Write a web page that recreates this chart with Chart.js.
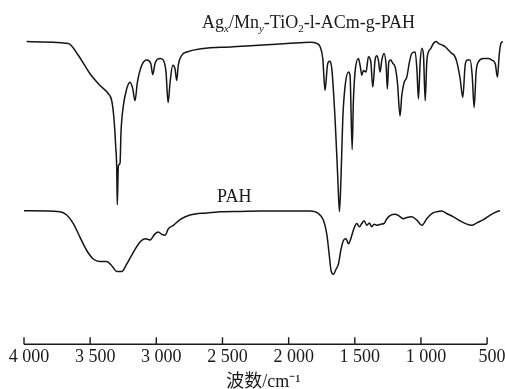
<!DOCTYPE html>
<html>
<head>
<meta charset="utf-8">
<script src="https://cdn.jsdelivr.net/npm/chart.js@4.4.0/dist/chart.umd.min.js"></script>
<style>
  html, body { margin: 0; padding: 0; background: #ffffff; }
  #wrap { width: 505px; height: 389px; position: relative; }
</style>
</head>
<body>
<div id="wrap"><canvas id="c" width="505" height="389"></canvas></div>
<script>
// ---------- data ----------
const tickValues = [4000, 3500, 3000, 2500, 2000, 1500, 1000, 500];
const tickLabels = ['4 000', '3 500', '3 000', '2 500', '2 000', '1 500', '1 000', '500'];
const axisTitle = '波数/cm⁻¹';

const topWavenumber = [3980,3665,3590,3501,3425,3363,3337,3320,3307,3299,3295,3287,3274,3267,3249,3224,3199,3178,3161,3143,3110,3072,3042,3027,3010,2972,2947,2927,2911,2896,2876,2859,2846,2834,2808,2770,2420,1913,1838,1787,1762,1742,1725,1707,1692,1674,1649,1629,1616,1604,1591,1573,1548,1536,1520,1511,1498,1473,1460,1447,1435,1415,1397,1379,1364,1347,1334,1322,1309,1296,1279,1263,1254,1243,1228,1213,1195,1178,1158,1145,1127,1107,1087,1069,1044,1031,1019,1006,993,981,968,956,943,925,906,885,868,842,817,792,767,749,729,704,684,666,649,628,613,598,583,566,528,490,464,439,422,409,396,381];
const topTransmittance = [99.8,99.2,95.3,89.2,85.3,82.6,80.3,74.3,65.3,57.7,46,58.7,59.8,69.8,78.7,84.2,86.4,84.2,80.3,86.4,92,93.7,92.6,88.9,92.6,94.2,93.7,89.8,79.7,86.4,92,90.9,87,92,95.3,96.4,98.1,99.4,99.6,99.2,98.1,94.2,83.7,92,93.3,90.9,74.2,55.3,43.7,55.3,74.2,85.3,89.8,88.7,64.2,79.8,89.8,94.2,92,88.7,90.3,89.8,94.8,93.1,84.8,93.7,95.1,93.7,89.8,93.7,95.9,91.8,84.2,93.1,93.7,92.6,91.4,86.4,75.3,82,86.4,88.1,93.1,95.9,96.4,90.9,80.9,93.1,97.6,95.3,80.3,93.1,96.4,97.6,99.2,99.8,99.2,98.7,98.1,97,95.9,95.3,93.1,87.6,81.4,92,93.7,93.7,88.7,78.1,89.8,93.1,94.2,94.2,93.7,92.6,88.1,95.3,99.2,99.8];

const pahWavenumber = [4000,3728,3677,3627,3577,3526,3476,3425,3375,3337,3299,3261,3224,3174,3123,3085,3047,3010,2985,2959,2934,2909,2871,2821,2745,2619,2518,2367,2216,1838,1775,1737,1712,1694,1679,1662,1641,1624,1606,1586,1566,1548,1530,1511,1485,1465,1447,1430,1409,1390,1372,1354,1334,1304,1279,1258,1228,1195,1163,1133,1107,1069,1031,993,956,918,880,842,805,755,704,653,616,578,528,477,427,402];
const pahTransmittance = [44,43.7,42.6,39.8,35.3,30.9,28.1,27.3,27.3,25.9,24,24,26.4,30.3,33.7,34.8,34.4,36.4,37,36.2,35.9,38.1,39.2,41.1,42.6,43.3,43.7,43.8,43.9,43.9,43.1,40.9,36.4,29.8,24.2,23.1,24.8,26.4,30.9,34.2,34.8,33.1,34.8,37.6,39.8,38.7,39.8,40.7,39.2,40,38.7,39.6,39.2,39.6,39.8,41.4,42.6,42.9,42.2,41.4,41.8,42,40.9,39.2,41.4,43.1,43.7,43.9,43.1,42,40.7,39.6,39.2,40,41.1,42.6,43.7,44];

// series labels: [wavenumber, transmittance] anchor of text baseline-left
const topLabel = { at: [2654, 104.3], parts: [
  {t: 'Ag'}, {t: 'x', sub: true, italic: true}, {t: '/Mn'}, {t: 'y', sub: true, italic: true},
  {t: '-TiO'}, {t: '2', sub: true}, {t: '-l-ACm-g-PAH'} ] };
const pahLabel = { at: [2541, 47], parts: [ {t: 'PAH'} ] };

// ---------- chart ----------
const SERIF = '"Liberation Serif", "Times New Roman", "Noto Sans CJK SC", serif';
const toPts = (xs, ys) => xs.map((x, i) => ({ x: x, y: ys[i] }));

const axisPlugin = {
  id: 'irAxis',
  afterDraw(chart) {
    const ctx = chart.ctx;
    const xs = chart.scales.x, ys = chart.scales.y;
    const yb = chart.chartArea.bottom;
    ctx.save();
    ctx.strokeStyle = '#1a1a1a';
    ctx.lineWidth = 1.4;
    ctx.beginPath();
    ctx.moveTo(xs.getPixelForValue(tickValues[0]), yb);
    ctx.lineTo(xs.getPixelForValue(tickValues[tickValues.length - 1]), yb);
    tickValues.forEach(v => {
      const px = xs.getPixelForValue(v);
      ctx.moveTo(px, yb);
      ctx.lineTo(px, yb - 7);
    });
    ctx.stroke();

    ctx.fillStyle = '#1a1a1a';
    ctx.textBaseline = 'alphabetic';
    ctx.textAlign = 'left';
    const size = 18;
    [topLabel, pahLabel].forEach(lab => {
      let x = xs.getPixelForValue(lab.at[0]);
      const y = ys.getPixelForValue(lab.at[1]);
      lab.parts.forEach(p => {
        const fs = p.sub ? Math.round(size * 0.62) : size;
        ctx.font = (p.italic ? 'italic ' : '') + fs + 'px ' + SERIF;
        ctx.fillText(p.t, x, y + (p.sub ? size * 0.25 : 0));
        x += ctx.measureText(p.t).width;
      });
    });
    ctx.restore();
  }
};

new Chart(document.getElementById('c'), {
  type: 'line',
  data: {
    datasets: [
      { data: toPts(topWavenumber, topTransmittance) },
      { data: toPts(pahWavenumber, pahTransmittance) }
    ]
  },
  options: {
    responsive: false,
    animation: false,
    events: [],
    clip: false,
    layout: { padding: { top: 41, left: 24, right: 2, bottom: -2 } },
    elements: {
      line: { borderColor: '#151515', borderWidth: 1.5, cubicInterpolationMode: 'monotone', fill: false },
      point: { radius: 0 }
    },
    plugins: { legend: { display: false }, tooltip: { enabled: false } },
    scales: {
      x: {
        type: 'linear',
        reverse: true,
        min: 380,
        max: 4000,
        afterBuildTicks: (scale) => { scale.ticks = tickValues.map(v => ({ value: v })); },
        grid: { display: false, drawTicks: false },
        border: { display: false },
        ticks: {
          autoSkip: false,
          maxRotation: 0,
          padding: 3,
          labelOffset: 5,
          color: '#1a1a1a',
          font: { family: SERIF, size: 18, lineHeight: 1.1 },
          callback: (value, index) => tickLabels[index]
        },
        title: {
          display: true,
          text: axisTitle,
          color: '#1a1a1a',
          padding: { top: 3, bottom: 0 },
          font: { family: SERIF, size: 18, lineHeight: 1.0 }
        }
      },
      y: { display: false, min: 0, max: 100 }
    }
  },
  plugins: [axisPlugin]
});
</script>
</body>
</html>
